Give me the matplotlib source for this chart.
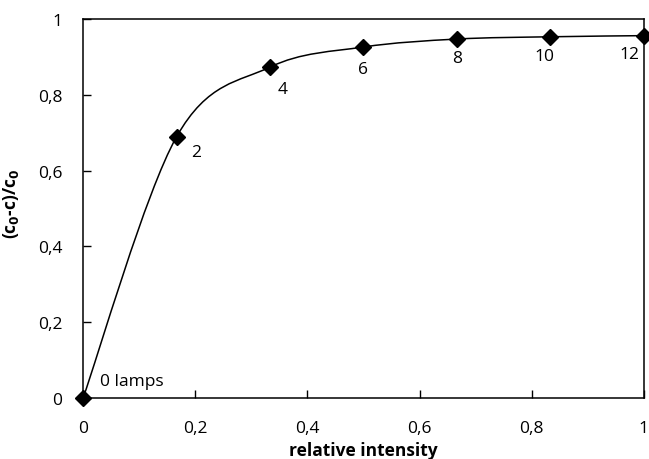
import numpy as np
import matplotlib.pyplot as plt
from matplotlib.path import Path
from matplotlib.patches import PathPatch

plt.rcParams['font.family'] = ['Open Sans', 'DejaVu Sans']

# data
lamps = [0, 2, 4, 6, 8, 10, 12]
intensity = [0, 1/6, 2/6, 3/6, 4/6, 5/6, 1]
removal = [0, 0.689, 0.873, 0.926, 0.947, 0.953, 0.956]
point_labels = ['0 lamps', '2', '4', '6', '8', '10', '12']
ticks = [0, 0.2, 0.4, 0.6, 0.8, 1]
tick_labels = ['0', '0,2', '0,4', '0,6', '0,8', '1']

fig = plt.figure(figsize=(6.49, 4.6), dpi=100)
ax = fig.add_axes([0.128, 0.1326, 0.864, 0.824])
ax.set_xlim(0, 1)
ax.set_ylim(0, 1)

# smoothed line (catmull-rom style bezier through the points)
pts = np.column_stack([intensity, removal])
n = len(pts)
verts = [pts[0]]
codes = [Path.MOVETO]
for i in range(n - 1):
    p0 = pts[max(i - 1, 0)]
    p1 = pts[i]
    p2 = pts[i + 1]
    p3 = pts[min(i + 2, n - 1)]
    verts += [p1 + (p2 - p0) / 6, p2 - (p3 - p1) / 6, p2]
    codes += [Path.CURVE4] * 3
ax.add_patch(PathPatch(Path(verts, codes), facecolor='none', edgecolor='black',
                       lw=1.1, clip_on=False, zorder=2))

ax.plot(intensity, removal, linestyle='none', marker='D', markersize=8.5,
        color='black', clip_on=False, zorder=3)

offsets = [(12, 12), (14, -11), (9, -16), (0, -16), (0, -14), (-4, -14), (-10, -13)]
aligns = ['left', 'center', 'center', 'center', 'center', 'center', 'center']
for x, y, lab, off, ha in zip(intensity, removal, point_labels, offsets, aligns):
    ax.annotate(lab, (x, y), xytext=off, textcoords='offset points',
                ha=ha, va='center', fontsize=12.5)

ax.set_xticks(ticks)
ax.set_xticklabels(tick_labels)
ax.set_yticks(ticks)
ax.set_yticklabels(tick_labels)
ax.tick_params(direction='in', length=6, width=1, labelsize=12.5)
ax.tick_params(axis='x', pad=16)
ax.tick_params(axis='y', pad=15)
for sp in ax.spines.values():
    sp.set_linewidth(1.1)

ax.set_xlabel('relative intensity', fontsize=12.5, fontweight='bold')
ax.xaxis.set_label_coords(0.5, -0.114)
ax.set_ylabel(r'(c$_\mathbf{0}$-c)/c$_\mathbf{0}$', fontsize=12.5, fontweight='bold')
ax.yaxis.set_label_coords(-0.11, 0.515)

fig.savefig('out.png', dpi=100)
